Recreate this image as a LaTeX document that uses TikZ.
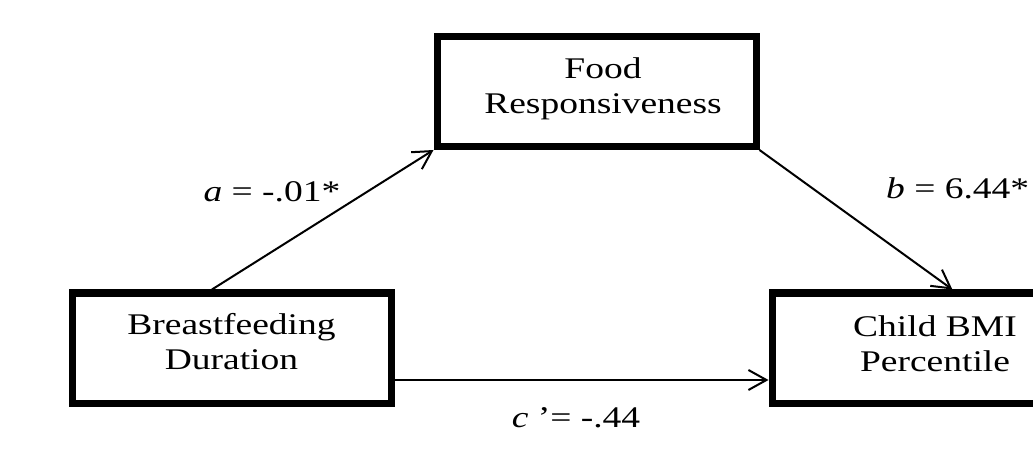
\documentclass[tikz,border=0pt]{standalone}
\usepackage{fontspec}
\setmainfont{Liberation Serif}
\usetikzlibrary{arrows.meta,calc}
\tikzset{
  varbox/.style={draw=black, line width=7pt, minimum width=319pt, minimum height=110pt, inner sep=0pt, fill=white},
  txt/.style={font=\fontsize{30}{35}\selectfont, text=black, inner sep=0pt},
  path arrow/.style={draw=black, line width=2pt, -{Straight Barb[length=18pt,width=20pt,line width=2pt]}}
}
\newcommand{\wide}[1]{\scalebox{1.25}[1]{#1}}
\begin{document}
\begin{tikzpicture}[x=1pt,y=-1pt]
\clip (0,0) rectangle (1033,454);
\fill[white] (0,0) rectangle (1033,454);
\node[varbox] (food) at (596.5,91.5) {};
\node[txt] (foodtxt) at (603,89) {\wide{\begin{tabular}{@{}c@{}}Food\\Responsiveness\end{tabular}}};
\node[varbox] (bf) at (231.5,348) {};
\node[txt] (bftxt) at (231.5,345) {\wide{\begin{tabular}{@{}c@{}}Breastfeeding\\Duration\end{tabular}}};
\node[varbox] (child) at (931.5,348) {};
\node[txt] (childtxt) at (935,347) {\wide{\begin{tabular}{@{}c@{}}Child BMI\\Percentile\end{tabular}}};
\draw[path arrow] ($(bf.north west)!0.44!(bf.north east)$) -- (food.south west);
\draw[path arrow] (food.south east) -- ($(child.north west)!0.564!(child.north east)$);
\draw[path arrow] ([yshift=-32pt]bf.east) -- ([yshift=-32pt]child.west);
\node[txt] (la) at (272,192) {\wide{\textit{a} = -.01*}};
\node[txt, anchor=west] (lb) at (886,188) {\wide{\textit{b} = 6.44*}};
\node[txt] (lc) at (576,418) {\wide{\textit{c} '= -.44}};
\end{tikzpicture}
\end{document}
